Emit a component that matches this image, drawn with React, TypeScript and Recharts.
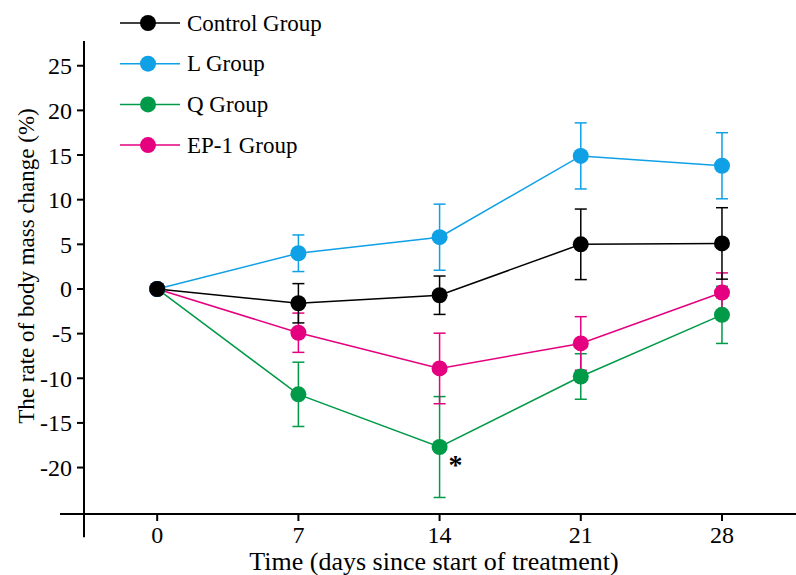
import {
  LineChart,
  Line,
  XAxis,
  YAxis,
  ErrorBar,
  ReferenceLine,
  Legend,
  Label,
  LabelList,
} from "recharts";

const FONT = '"Liberation Serif", "Times New Roman", serif';

// values (mean ± sd, % body mass change)
const days = [0, 7, 14, 21, 28];
const controlMean = [0, -1.6, -0.7, 5.0, 5.1];
const controlSd = [0, 2.2, 2.15, 3.95, 4.0];
const lMean = [0, 4.0, 5.8, 14.9, 13.8];
const lSd = [0, 2.05, 3.7, 3.7, 3.7];
const qMean = [0, -11.8, -17.7, -9.8, -2.9];
const qSd = [0, 3.6, 5.65, 2.55, 3.2];
const ep1Mean = [0, -4.9, -8.9, -6.1, -0.4];
const ep1Sd = [0, 2.2, 3.95, 3.0, 2.2];
const qSignif = ["", "", "*", "", ""];
const yTicks = [-20, -15, -10, -5, 0, 5, 10, 15, 20, 25];

const data = days.map((d, i) => ({
  day: d,
  control: controlMean[i],
  controlSd: controlSd[i],
  l: lMean[i],
  lSd: lSd[i],
  q: qMean[i],
  qSd: qSd[i],
  ep1: ep1Mean[i],
  ep1Sd: ep1Sd[i],
  mark: qSignif[i],
}));

// legend order
const series = [
  { key: "control", name: "Control Group", color: "#000000" },
  { key: "l", name: "L Group", color: "#0fa0e6" },
  { key: "q", name: "Q Group", color: "#009a48" },
  { key: "ep1", name: "EP-1 Group", color: "#e4007f" },
];

// drawing order (black on top)
const drawOrder = ["q", "ep1", "l", "control"];

const X_MIN = -3.629;
const X_MAX = 31.67;
const Y_MIN = -25.2;
const Y_MAX = 27.77;

const LegendBox = () => (
  <svg width={360} height={170} style={{ display: "block" }}>
    {series.map((s, i) => {
      const cy = 23 + i * 40.7;
      return (
        <g key={s.key}>
          <line x1={120} x2={180} y1={cy} y2={cy} stroke={s.color} strokeWidth={1.5} />
          <circle cx={148} cy={cy} r={8} fill={s.color} />
          <text
            x={187}
            y={cy}
            dominantBaseline="central"
            fontSize={23}
            fontFamily={FONT}
            fill="#000"
          >
            {s.name}
          </text>
        </g>
      );
    })}
  </svg>
);

const App = () => {
  return (
    <div style={{ position: "absolute", left: 0, top: 0, background: "#fff" }}>
      <LineChart
        width={796}
        height={575}
        data={data}
        margin={{ top: 41, right: 0, bottom: 0, left: 0 }}
      >
        <XAxis
          dataKey="day"
          type="number"
          domain={[X_MIN, X_MAX]}
          ticks={days}
          allowDataOverflow
          height={61}
          tickSize={7}
          tickMargin={5}
          axisLine={{ stroke: "#000", strokeWidth: 2 }}
          tickLine={{ stroke: "#000", strokeWidth: 2 }}
          tick={{ fontSize: 24, fill: "#000", fontFamily: FONT }}
        >
          <Label
            content={() => (
              <text
                x={434}
                y={570}
                textAnchor="middle"
                fontSize={26}
                fontFamily={FONT}
                fill="#000"
              >
                Time (days since start of treatment)
              </text>
            )}
          />
        </XAxis>
        <YAxis
          type="number"
          domain={[Y_MIN, Y_MAX]}
          ticks={yTicks}
          allowDataOverflow
          width={84}
          tickSize={7}
          tickMargin={5}
          axisLine={{ stroke: "#000", strokeWidth: 2 }}
          tickLine={{ stroke: "#000", strokeWidth: 2 }}
          tick={{ fontSize: 24, fill: "#000", fontFamily: FONT }}
        >
          <Label
            content={() => (
              <text
                x={26}
                y={266}
                transform="rotate(-90 26 266)"
                textAnchor="middle"
                dominantBaseline="central"
                fontSize={23}
                fontFamily={FONT}
                fill="#000"
              >
                The rate of body mass change (%)
              </text>
            )}
          />
        </YAxis>

        {/* axis lines crossing past each other, as in the original */}
        <ReferenceLine
          segment={[
            { x: X_MIN, y: Y_MIN },
            { x: X_MIN, y: -27.8 },
          ]}
          stroke="#000"
          strokeWidth={2}
          ifOverflow="visible"
        />
        <ReferenceLine
          segment={[
            { x: -4.819, y: Y_MIN },
            { x: X_MIN, y: Y_MIN },
          ]}
          stroke="#000"
          strokeWidth={2}
          ifOverflow="visible"
        />

        <Legend
          layout="vertical"
          align="center"
          verticalAlign="middle"
          content={() => <LegendBox />}
          wrapperStyle={{ position: "absolute", left: 0, top: 0, width: 360, height: 170 }}
        />

        {drawOrder.map((k) => {
          const s = series.find((x) => x.key === k)!;
          return (
            <Line
              key={k}
              dataKey={k}
              name={s.name}
              stroke={s.color}
              strokeWidth={1.5}
              dot={{ r: 8, fill: s.color, stroke: "none" }}
              activeDot={false}
              isAnimationActive={false}
            >
              <ErrorBar
                dataKey={`${k}Sd`}
                direction="y"
                width={6}
                stroke={s.color}
                strokeWidth={1.5}
              />
              {k === "q" && (
                <LabelList
                  dataKey="mark"
                  content={(p: any) =>
                    p.value ? (
                      <text
                        x={p.x + 16}
                        y={p.y + 17}
                        textAnchor="middle"
                        dominantBaseline="central"
                        fontSize={28}
                        fontWeight="bold"
                        fontFamily={FONT}
                        fill="#000"
                      >
                        {p.value}
                      </text>
                    ) : null
                  }
                />
              )}
            </Line>
          );
        })}
      </LineChart>
    </div>
  );
};

export default App;
